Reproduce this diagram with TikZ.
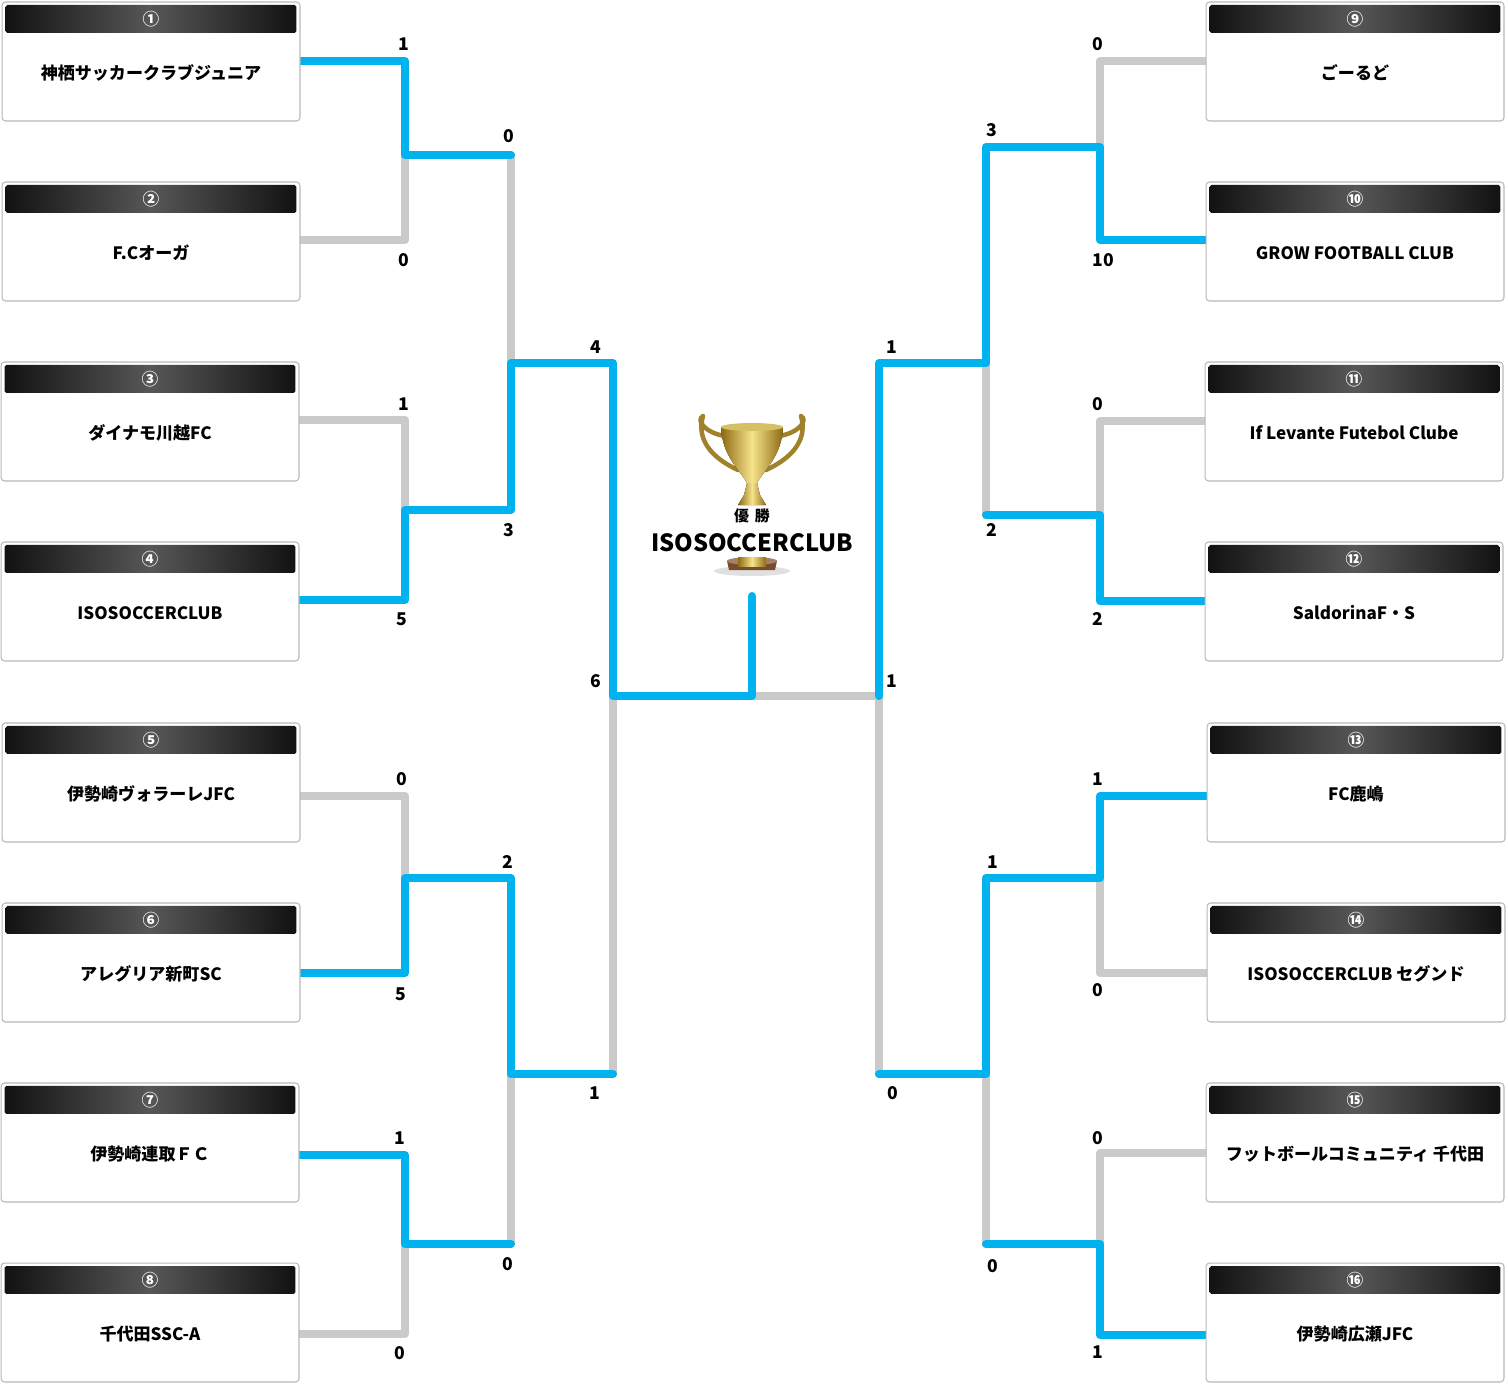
\documentclass[tikz,border=0pt]{standalone}
\usepackage{fontspec}
\setmainfont{Noto Sans CJK JP}[BoldFont={Noto Sans CJK JP Black}]
\usetikzlibrary{positioning,backgrounds}
\definecolor{winblue}{HTML}{00B2EE}
\definecolor{losegrey}{HTML}{CACACA}
\definecolor{golddark}{HTML}{8C6A12}
\definecolor{goldlight}{HTML}{F6E48A}
\definecolor{basebrown}{HTML}{7A4A2A}

\begin{document}
\begin{tikzpicture}[x=0.02cm,y=-0.02cm,
  win/.style={draw=winblue,line width=0.16cm,line cap=round,line join=round},
  lose/.style={draw=losegrey,line width=0.16cm,line cap=round,line join=round},
  teambox/.style={draw=black!28,fill=white,rounded corners=2pt,line width=0.6pt,
    minimum width=5.96cm,minimum height=2.38cm,inner sep=0pt},
  header/.style={rounded corners=1pt,minimum width=5.82cm,minimum height=0.56cm,inner sep=0pt,
    left color=black!93,right color=black!93,middle color=black!66,text=white,
    font=\bfseries\fontsize{9.5}{10}\selectfont},
  teamname/.style={font=\bfseries\fontsize{9.7}{11}\selectfont},
  score/.style={font=\bfseries\fontsize{10}{11}\selectfont,inner sep=0pt}]

\useasboundingbox (0,0) rectangle (1508,1383);

% teams
\foreach \i/\x/\y/\num/\name in {
  1/151/61.5/①/神栖サッカークラブジュニア,
  2/151/241.5/②/F.Cオーガ,
  3/150/421.5/③/ダイナモ川越FC,
  4/150/601.5/④/ISOSOCCERCLUB,
  5/151/782.5/⑤/伊勢崎ヴォラーレJFC,
  6/151/962.5/⑥/アレグリア新町SC,
  7/150/1142.5/⑦/伊勢崎連取ＦＣ,
  8/150/1322.5/⑧/千代田SSC-A,
  9/1355/61.5/⑨/ごーるど,
  10/1355/241.5/⑩/GROW FOOTBALL CLUB,
  11/1354/421.5/⑪/If Levante Futebol Clube,
  12/1354/601.5/⑫/SaldorinaF・S,
  13/1356/782.5/⑬/FC鹿嶋,
  14/1356/962.5/⑭/ISOSOCCERCLUB セグンド,
  15/1355/1142.5/⑮/フットボールコミュニティ 千代田,
  16/1355/1322.5/⑯/伊勢崎広瀬JFC} {
  \node[teambox] (t\i) at (\x,\y) {};
  \node[header] (h\i) at ([yshift=-0.35cm]t\i.north) {\num};
  \node[teamname] (n\i) at ([yshift=-0.23cm]t\i.center) {\name};
}

% junctions
\coordinate (ja) at (405,155);
\coordinate (jb) at (405,510);
\coordinate (jc) at (405,878);
\coordinate (jd) at (405,1244);
\coordinate (ka) at (511,363);
\coordinate (kb) at (511,1074);
\coordinate (sa) at (613,696);
\coordinate (fc) at (752,696);
\coordinate (cup) at (752,596);
\coordinate (sb) at (879,696);
\coordinate (kc) at (986,363);
\coordinate (kd) at (986,1074);
\coordinate (je) at (1100,147);
\coordinate (jf) at (1100,515);
\coordinate (jg) at (1100,878);
\coordinate (jh) at (1100,1244);

\begin{scope}[on background layer]
  % lost
  \draw[lose] (t2.east |- 0,240) -| (ja);
  \draw[lose] (t3.east |- 0,420) -| (jb);
  \draw[lose] (t5.east |- 0,796) -| (jc);
  \draw[lose] (t8.east |- 0,1334) -| (jd);
  \draw[lose] (ja -| ka) -- (ka);
  \draw[lose] (jd -| kb) -- (kb);
  \draw[lose] (kb -| sa) -- (sa);
  \draw[lose] (t9.west |- 0,61) -| (je);
  \draw[lose] (t11.west |- 0,421) -| (jf);
  \draw[lose] (t14.west |- 0,973) -| (jg);
  \draw[lose] (t15.west |- 0,1153) -| (jh);
  \draw[lose] (jf -| kc) -- (kc);
  \draw[lose] (jh -| kd) -- (kd);
  \draw[lose] (kd -| sb) -- (sb) -- (fc);
  % won
  \draw[win] (t1.east |- 0,61) -| (ja) -- (ja -| ka);
  \draw[win] (t4.east |- 0,600) -| (jb) -- (jb -| ka) -- (ka) -- (ka -| sa) -- (sa) -- (fc) -- (cup);
  \draw[win] (t6.east |- 0,973) -| (jc) -- (jc -| kb) -- (kb) -- (kb -| sa);
  \draw[win] (t7.east |- 0,1155) -| (jd) -- (jd -| kb);
  \draw[win] (t10.west |- 0,240) -| (je) -- (je -| kc) -- (kc) -- (kc -| sb) -- (sb);
  \draw[win] (t12.west |- 0,601) -| (jf) -- (jf -| kc);
  \draw[win] (t13.west |- 0,796) -| (jg) -- (jg -| kd) -- (kd) -- (kd -| sb);
  \draw[win] (t16.west |- 0,1335) -| (jh) -- (jh -| kd);
\end{scope}

% scores
\foreach \x/\y/\s [count=\i] in {
  404/44/1, 404/260/0, 509/136/0, 404/404/1, 402/619/5, 509/530/3, 596/347/4,
  402/779/0, 401/994/5, 508/862/2, 400/1138/1, 400/1353/0, 508/1264/0, 595/1093/1, 596/681/6,
  1098/44/0, 1103/260/10, 992/130/3, 1098/404/0, 1098/619/2, 992/530/2, 892/347/1,
  1098/779/1, 1098/990/0, 993/862/1, 1098/1138/0, 1098/1352/1, 993/1266/0, 893/1093/0, 892/681/1}
  \node[score] (sc\i) at (\x,\y) {\s};

% trophy
\draw[golddark!80!goldlight,line width=0.09cm,line cap=round]
  (724,436) .. controls (704,432) and (696,420) .. (703,416)
  (703,416) .. controls (696,440) and (712,458) .. (738,470);
\draw[golddark!80!goldlight,line width=0.09cm,line cap=round]
  (780,436) .. controls (800,432) and (808,420) .. (801,416)
  (801,416) .. controls (808,440) and (792,458) .. (766,470);
\fill[left color=golddark,right color=golddark,middle color=goldlight]
  (721,427) .. controls (722,456) and (740,470) .. (747,483) -- (757,483)
  .. controls (764,470) and (782,456) .. (783,427) -- cycle;
\fill[goldlight!70!golddark] (752,427) ellipse (31 and 4);
\fill[left color=golddark,right color=golddark,middle color=goldlight]
  (747,483) -- (757,483) -- (760,495) -- (766,505) -- (738,505) -- (744,495) -- cycle;
\fill[black!12] (752,571) ellipse (38 and 5);
\fill[basebrown] (727,561) -- (777,561) -- (775,570) -- (729,570) -- cycle;
\fill[basebrown!70!white] (752,561) ellipse (25 and 4);
\fill[left color=golddark,right color=golddark,middle color=goldlight] (738,557) rectangle (766,566);
\node[font=\bfseries\fontsize{8.5}{9}\selectfont] (champ) at (752,516) {優\hspace{0.4em}勝};
\node[font=\bfseries\fontsize{13.5}{15}\selectfont] (winner) at (752,543) {ISOSOCCERCLUB};
\end{tikzpicture}
\end{document}
